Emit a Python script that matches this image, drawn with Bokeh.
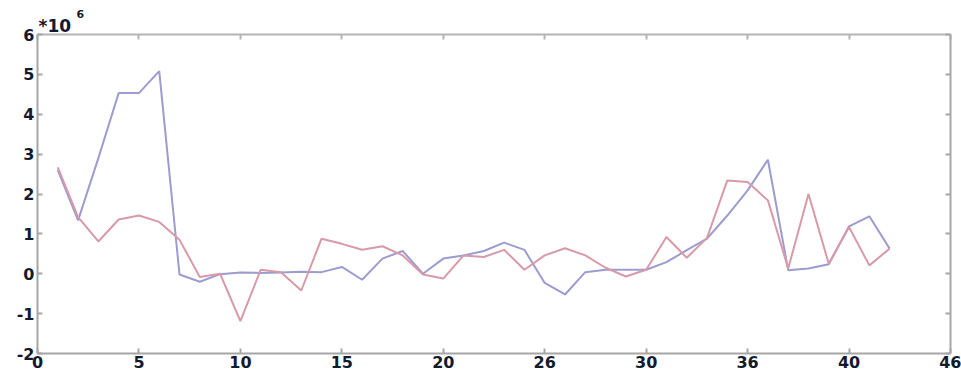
from bokeh.plotting import figure
from bokeh.models import LinearAxis, FixedTicker, Range1d, Title
from bokeh.embed import file_html
from bokeh.resources import INLINE

x_vals = list(range(1, 43))
blue_vals = [2.60, 1.34, 2.90, 4.53, 4.53, 5.08, -0.02, -0.20, -0.01, 0.03,
             0.02, 0.03, 0.05, 0.04, 0.17, -0.15, 0.38, 0.57, 0.00, 0.38,
             0.46, 0.57, 0.78, 0.60, -0.23, -0.52, 0.04, 0.10, 0.10, 0.10,
             0.29, 0.59, 0.88, 1.46, 2.09, 2.86, 0.09, 0.13, 0.24, 1.19,
             1.44, 0.63]
red_vals = [2.67, 1.42, 0.81, 1.36, 1.46, 1.30, 0.85, -0.08, 0.00, -1.19,
            0.10, 0.04, -0.42, 0.88, 0.75, 0.60, 0.69, 0.46, -0.02, -0.12,
            0.46, 0.42, 0.60, 0.10, 0.46, 0.64, 0.46, 0.15, -0.07, 0.10,
            0.92, 0.40, 0.90, 2.34, 2.30, 1.84, 0.13, 2.00, 0.25, 1.17,
            0.21, 0.63]
x_ticks = [0, 5, 10, 15, 20, 25, 30, 35, 40, 45]
x_tick_labels = ["0", "5", "10", "15", "20", "26", "30", "36", "40", "46"]
y_ticks = [-2, -1, 0, 1, 2, 3, 4, 5, 6]
y_tick_labels = ["-2", "-1", "0", "1", "2", "3", "4", "5", "6"]
scale_text = "*10"
scale_exp = "6"

LABEL_COLOR = "#141a2e"
AXIS_COLOR = "#a6a6a6"
FONT = "DejaVu Sans"

p = figure(width=961, height=377, output_backend="svg", toolbar_location=None,
           x_range=Range1d(0, 45), y_range=Range1d(-2, 6),
           min_border_left=37, min_border_right=11, min_border_top=34,
           min_border_bottom=24)
p.xgrid.visible = False
p.ygrid.visible = False
p.outline_line_color = None
p.background_fill_color = "white"
p.border_fill_color = "white"

p.line(x_vals, blue_vals, line_color="#9c9cd0", line_width=2)
p.line(x_vals, red_vals, line_color="#d89aa8", line_width=2)

for ax in (p.xaxis[0], p.yaxis[0]):
    ax.axis_line_color = AXIS_COLOR
    ax.axis_line_width = 2
    ax.major_tick_line_color = AXIS_COLOR
    ax.major_tick_line_width = 2
    ax.major_tick_in = 5
    ax.major_tick_out = 0
    ax.minor_tick_line_color = None
    ax.major_label_text_font = FONT
    ax.major_label_text_font_style = "bold"
    ax.major_label_text_font_size = "16px"
    ax.major_label_text_color = LABEL_COLOR

p.xaxis[0].ticker = FixedTicker(ticks=x_ticks)
p.xaxis[0].major_label_overrides = {t: l for t, l in zip(x_ticks, x_tick_labels)}
p.xaxis[0].major_label_standoff = 2
p.yaxis[0].ticker = FixedTicker(ticks=y_ticks)
p.yaxis[0].major_label_overrides = {t: l for t, l in zip(y_ticks, y_tick_labels)}
p.yaxis[0].major_label_standoff = 3

# top and right frame edges: tick marks only (as minor ticks, so no labels)
top = LinearAxis(ticker=FixedTicker(ticks=[], minor_ticks=x_ticks),
                 axis_line_color="#b4b4b4", axis_line_width=2,
                 major_tick_line_color=None, major_label_standoff=0,
                 minor_tick_line_color="#b4b4b4", minor_tick_line_width=2,
                 minor_tick_in=5, minor_tick_out=0)
right = LinearAxis(ticker=FixedTicker(ticks=[], minor_ticks=y_ticks),
                   axis_line_color=AXIS_COLOR, axis_line_width=2,
                   major_tick_line_color=None, major_label_standoff=0,
                   minor_tick_line_color=AXIS_COLOR, minor_tick_line_width=2,
                   minor_tick_in=5, minor_tick_out=0)
p.add_layout(top, "above")
p.add_layout(right, "right")

p.add_layout(Title(text=scale_text, align="left", offset=1, standoff=-3,
                   text_font=FONT, text_font_style="bold", text_font_size="17px",
                   text_color=LABEL_COLOR), "above")
p.add_layout(Title(text=scale_exp, align="left", offset=39, standoff=-4,
                   text_font=FONT, text_font_style="bold", text_font_size="11px",
                   text_color=LABEL_COLOR), "above")

open("out.html", "w").write(file_html(p, INLINE))
